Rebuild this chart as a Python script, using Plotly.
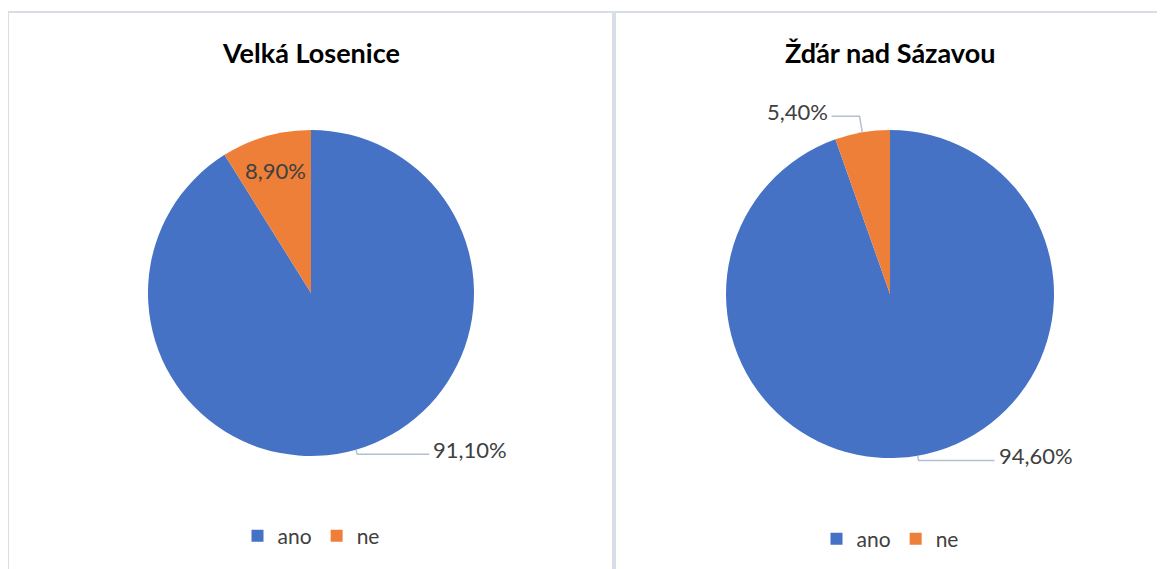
import math
import plotly.graph_objects as go

# data
towns = ["Velká Losenice", "Žďár nad Sázavou"]
answers = ["ano", "ne"]
velka_losenice = [91.1, 8.9]
zdar_nad_sazavou = [94.6, 5.4]

W, H = 1165, 569
OFF = 8  # the page body has an 8px margin
BLUE = "#4672C6"
ORANGE = "#EE7F38"
FONT = "Lato, 'Open Sans', sans-serif"


def px(x):
    return (x - OFF) / W


def py(y):
    return 1 - (y - OFF) / H


# pie geometry in pixels (centre x, centre y, radius)
panels = [
    {"values": velka_losenice, "cx": 311, "cy": 293, "r": 163, "legend": "legend",
     "suffix": "",
     # label style per slice: (mode, radial factor, horizontal leg)
     "labels": [("out", 1.03, 72), ("in", 0.78, 0)]},
    {"values": zdar_nad_sazavou, "cx": 890, "cy": 294, "r": 164, "legend": "legend2",
     # zero-width space keeps the second legend's items separate from the first
     "suffix": "\u200b",
     "labels": [("out", 1.03, 76), ("out", 1.10, -28)]},
]

fig = go.Figure()

for i, p in enumerate(panels):
    fig.add_trace(go.Pie(
        labels=[a + p["suffix"] for a in answers],
        values=p["values"],
        sort=False,
        direction="clockwise",
        rotation=0,
        textinfo="none",
        hoverinfo="label+percent",
        marker=dict(colors=[BLUE, ORANGE], line=dict(width=0)),
        domain=dict(x=[px(p["cx"] - p["r"]), px(p["cx"] + p["r"])],
                    y=[py(p["cy"] + p["r"]), py(p["cy"] - p["r"])]),
        legend=p["legend"],
        showlegend=True,
    ))

    # data labels with leader lines, placed from slice mid-angles
    total = sum(p["values"])
    start = 0.0
    for v, (mode, k, leg) in zip(p["values"], p["labels"]):
        frac = v / total
        mid = (start + frac / 2) * 2 * math.pi
        start += frac
        dx, dy = math.sin(mid), -math.cos(mid)
        text = f"{v:.2f}".replace(".", ",") + "%"
        if mode == "in":
            x = p["cx"] + p["r"] * k * dx
            y = p["cy"] + p["r"] * k * dy
            fig.add_annotation(x=px(x), y=py(y), xref="paper", yref="paper",
                               xanchor="center", yanchor="middle",
                               text=text, showarrow=False,
                               font=dict(family=FONT, size=22, color="#404040"))
        else:
            ex, ey = p["cx"] + p["r"] * dx, p["cy"] + p["r"] * dy
            bx, by = p["cx"] + p["r"] * k * dx, p["cy"] + p["r"] * k * dy
            lx = bx + leg
            fig.add_shape(type="path", xref="paper", yref="paper",
                          path=f"M {px(ex)} {py(ey)} L {px(bx)} {py(by)} L {px(lx)} {py(by)}",
                          line=dict(color="#B4C0D2", width=1.5))
            fig.add_annotation(x=px(lx + (2 if leg > 0 else -2)), y=py(by - 5),
                               xref="paper", yref="paper",
                               xanchor="left" if leg > 0 else "right", yanchor="middle",
                               text=text, showarrow=False,
                               font=dict(family=FONT, size=22, color="#404040"))

    # chart title
    fig.add_annotation(x=px(p["cx"]), y=py(52), xref="paper", yref="paper",
                       xanchor="center", yanchor="middle",
                       text=f"<b>{towns[i]}</b>", showarrow=False,
                       font=dict(family=FONT, size=27, color="#000000"))

# panel borders
fig.add_shape(type="rect", xref="paper", yref="paper",
              x0=px(8), x1=px(613), y0=py(600), y1=py(12),
              line=dict(color="#D9DEE6", width=2))
fig.add_shape(type="rect", xref="paper", yref="paper",
              x0=px(615), x1=px(1190), y0=py(600), y1=py(12),
              line=dict(color="#D9DEE6", width=2))

legend_style = dict(orientation="h", xanchor="center", yanchor="middle",
                    font=dict(family=FONT, size=21, color="#404040"),
                    bgcolor="rgba(0,0,0,0)", tracegroupgap=0)

fig.update_layout(
    width=W, height=H,
    margin=dict(l=0, r=0, t=0, b=0),
    paper_bgcolor="white",
    plot_bgcolor="white",
    legend=dict(x=px(311), y=py(536), **legend_style),
    legend2=dict(x=px(890), y=py(539), **legend_style),
)

fig.write_html("out.html")
